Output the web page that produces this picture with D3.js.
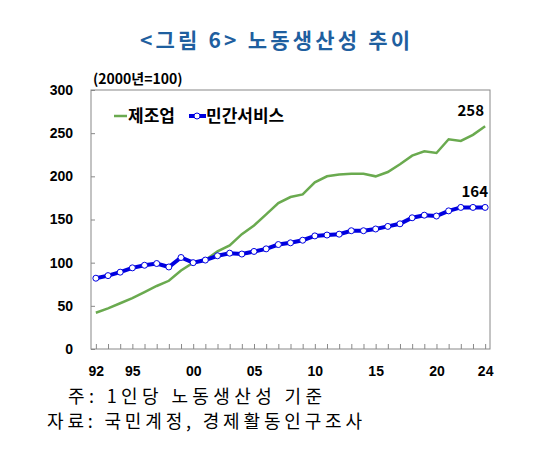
<html>
<head><meta charset="utf-8"></head>
<body style="margin:0;background:#fff">
<script src="https://cdn.jsdelivr.net/npm/d3@7/dist/d3.min.js"></script>
<script>
const years = d3.range(1992, 2025);
const manuf = [42,47,53,59,66,73,79,91,100,103,113,120,133,143,156,169,176,179,193,200,202,203,203,200,205,214,224,229,227,243,241,248,258];
const service = [82,85,89,94,97,99,95,106,100,103,108,111,110,113,116,121,123,126,131,132,133,137,137,139,142,145,152,155,154,160,164,164,164];
const yTicks = [0,50,100,150,200,250,300];
const xLabels = [1992,1995,2000,2005,2010,2015,2020,2024];

const W = 533, H = 461;
const svg = d3.select("body").append("svg").attr("width", W).attr("height", H)
    .style("font-family", "'Malgun Gothic','Noto Sans CJK KR',sans-serif");

const x = d3.scaleLinear().domain([1991.6, 2024.4]).range([91, 490]);
const y = d3.scaleLinear().domain([0, 300]).range([349, 90]);

svg.append("text").attr("x", 140).attr("y", 48)
    .attr("fill", "#1f5f9f").attr("font-size", 21).attr("font-weight", "bold")
    .attr("textLength", 270).attr("lengthAdjust", "spacing")
    .text("<그림 6> 노동생산성  추이");

svg.append("text").attr("x", 93).attr("y", 84).attr("font-size", 14).attr("font-weight", "bold")
    .text("(2000년=100)");

svg.append("rect").attr("x", 91).attr("y", 90).attr("width", 399).attr("height", 259)
    .attr("fill", "none").attr("stroke", "#888");

svg.append("g").attr("transform", "translate(91,0)")
    .call(d3.axisLeft(y).tickValues(yTicks).tickSize(4).tickPadding(14))
    .call(g => g.select(".domain").remove())
    .call(g => g.selectAll("line").attr("x2", 4).attr("x1", 0).attr("stroke", "#888"))
    .call(g => g.selectAll("text").attr("font-size", 14).attr("font-weight", "bold").attr("fill", "#000")
        .attr("font-family", "Arial,'Liberation Sans',sans-serif"));

svg.append("g").attr("transform", "translate(0,349)")
    .call(d3.axisBottom(x).tickValues(years).tickSize(-5).tickFormat(d => xLabels.includes(d) ? String(d).slice(2) : ""))
    .call(g => g.select(".domain").remove())
    .call(g => g.selectAll("line").attr("stroke", "#888"))
    .call(g => g.selectAll("text").attr("dy", 24).attr("font-size", 14).attr("font-weight", "bold")
        .attr("font-family", "Arial,'Liberation Sans',sans-serif"));

const line = d3.line().x((d, i) => x(years[i])).y(d => y(d));
svg.append("path").datum(manuf).attr("d", line).attr("fill", "none")
    .attr("stroke", "#6aaa4f").attr("stroke-width", 2.5);
svg.append("path").datum(service).attr("d", line).attr("fill", "none")
    .attr("stroke", "#0000e0").attr("stroke-width", 4);
svg.append("g").selectAll("circle").data(service).join("circle")
    .attr("cx", (d, i) => x(years[i])).attr("cy", d => y(d)).attr("r", 3)
    .attr("fill", "#fff").attr("stroke", "#0000e0").attr("stroke-width", 1);

svg.append("text").attr("x", 484).attr("y", y(258) - 10).attr("text-anchor", "end")
    .attr("font-size", 15).attr("font-weight", "bold").text("258");
svg.append("text").attr("x", 488).attr("y", y(164) - 10).attr("text-anchor", "end")
    .attr("font-size", 15).attr("font-weight", "bold").text("164");

// legend
svg.append("line").attr("x1", 114).attr("x2", 127).attr("y1", 116).attr("y2", 116)
    .attr("stroke", "#6aaa4f").attr("stroke-width", 2.5);
svg.append("text").attr("x", 128).attr("y", 122).attr("font-size", 17).attr("font-weight", "bold").text("제조업");
svg.append("line").attr("x1", 189).attr("x2", 206).attr("y1", 116).attr("y2", 116)
    .attr("stroke", "#0000e0").attr("stroke-width", 4);
svg.append("circle").attr("cx", 197).attr("cy", 116).attr("r", 3).attr("fill", "#fff").attr("stroke", "#0000e0");
svg.append("text").attr("x", 206).attr("y", 122).attr("font-size", 17).attr("font-weight", "bold").text("민간서비스");

svg.append("text").attr("x", 68).attr("y", 403).attr("font-size", 18)
    .attr("textLength", 254).attr("lengthAdjust", "spacing").text("주: 1인당  노동생산성  기준");
svg.append("text").attr("x", 47).attr("y", 428).attr("font-size", 18)
    .attr("textLength", 315).attr("lengthAdjust", "spacing").text("자료: 국민계정, 경제활동인구조사");
</script>
</body>
</html>
